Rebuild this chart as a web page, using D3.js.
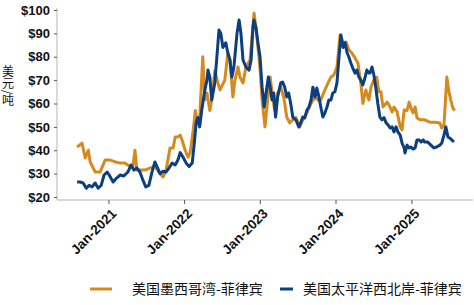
<!DOCTYPE html>
<html>
<head>
<meta charset="utf-8">
<script src="https://cdn.jsdelivr.net/npm/d3@7"></script>
<style>
  body { margin: 0; background: #fff; }
  svg { display: block; font-family: "Liberation Sans", Arial, sans-serif; }
</style>
</head>
<body>
<svg id="chart" width="474" height="305"></svg>
<script>
// 美国墨西哥湾-菲律宾
var gulfDates = ["2020-08-03","2020-08-27","2020-09-11","2020-09-26","2020-10-05","2020-10-29","2020-11-22","2020-12-16",
  "2021-01-10","2021-02-03","2021-02-27","2021-03-21","2021-04-15","2021-04-29","2021-05-09","2021-05-18","2021-06-02",
  "2021-06-26","2021-07-20","2021-08-13","2021-09-07","2021-09-22","2021-10-06","2021-10-25","2021-11-09","2021-11-19",
  "2021-12-02","2021-12-13","2021-12-22","2022-01-06","2022-01-20","2022-01-30","2022-02-14","2022-02-24","2022-03-03",
  "2022-03-17","2022-04-01","2022-04-11","2022-04-21","2022-05-05","2022-05-14","2022-05-29","2022-06-13","2022-06-23",
  "2022-07-16","2022-07-31","2022-08-10","2022-08-24","2022-09-03","2022-09-18","2022-09-27","2022-10-12","2022-10-26",
  "2022-11-15","2022-12-04","2022-12-13","2022-12-23","2023-01-02","2023-01-12","2023-01-26","2023-02-06","2023-02-20",
  "2023-03-04","2023-03-13","2023-03-28","2023-04-12","2023-04-26","2023-05-11","2023-05-25","2023-06-09","2023-06-24",
  "2023-07-13","2023-07-27","2023-08-16","2023-09-05","2023-09-24","2023-10-08","2023-10-22","2023-11-11","2023-11-26",
  "2023-12-10","2023-12-24","2024-01-08","2024-01-23","2024-02-07","2024-02-21","2024-03-05","2024-03-20","2024-04-04",
  "2024-04-18","2024-05-02","2024-05-12","2024-05-26","2024-06-10","2024-06-20","2024-07-04","2024-07-18","2024-07-28",
  "2024-08-07","2024-08-17","2024-09-06","2024-09-20","2024-09-30","2024-10-09","2024-10-24","2024-11-08","2024-11-17",
  "2024-11-27","2024-12-11","2024-12-21","2024-12-30","2025-01-09","2025-01-19","2025-01-28","2025-02-13","2025-03-06",
  "2025-03-30","2025-04-24","2025-05-18","2025-05-27","2025-06-07","2025-06-21","2025-07-01","2025-07-10","2025-07-20",
  "2025-07-29"];
var gulfValues = [41.4,43,36.7,40,35,30.7,30.7,35.8,
  35.8,35,34.5,34.5,33,33,40,31.5,31.5,
  31.5,32.4,33,30,28.6,31.5,41,41,45.7,
  45.7,46.5,44.4,40,37,39,48.7,57,53,
  54,80,61.5,64.5,57,61.5,74,68.8,65.8,
  70,81.6,78.6,62.8,70,75.6,71.3,68.8,75.6,
  78.6,98.7,92.7,84,75,61.5,50,60,71.3,
  62.8,57.2,64.5,67,62.8,54.2,51.7,53,54,
  50,53,56,60,62.8,61.5,61.5,65.8,68.8,
  71.3,72.2,75.6,89.3,86,86.3,83,81.6,79.5,
  77.3,68.8,60,65.8,61.5,67,70,71.3,65,
  65,58.5,60.6,58.5,56.4,58.5,56.4,50,48.7,
  57.2,57,60.6,58,56,58.5,53.8,53,53,
  52,52,51.7,49.5,50.8,71.3,65,61.5,58,
  57];

// 美国太平洋西北岸-菲律宾
var pnwDates = ["2020-08-03","2020-08-17","2020-09-01","2020-09-16","2020-09-30","2020-10-14","2020-10-29","2020-11-12",
  "2020-11-27","2020-12-11","2020-12-26","2021-01-10","2021-01-24","2021-02-08","2021-02-27","2021-03-16","2021-04-05",
  "2021-04-20","2021-05-04","2021-05-18","2021-06-02","2021-06-16","2021-06-30","2021-07-15","2021-07-29","2021-08-13",
  "2021-08-23","2021-09-07","2021-09-22","2021-10-06","2021-10-20","2021-11-04","2021-11-19","2021-12-02","2021-12-13",
  "2021-12-27","2022-01-11","2022-01-25","2022-02-09","2022-02-19","2022-02-28","2022-03-08","2022-03-17","2022-03-27",
  "2022-04-11","2022-04-21","2022-04-26","2022-05-05","2022-05-14","2022-05-29","2022-06-08","2022-06-18","2022-06-27",
  "2022-07-07","2022-07-21","2022-07-31","2022-08-10","2022-08-19","2022-08-29","2022-09-13","2022-09-23","2022-10-02",
  "2022-10-12","2022-10-26","2022-11-10","2022-11-20","2022-11-29","2022-12-04","2022-12-13","2022-12-23","2023-01-02",
  "2023-01-12","2023-01-22","2023-02-01","2023-02-11","2023-02-20","2023-03-01","2023-03-09","2023-03-18","2023-03-28",
  "2023-04-12","2023-04-21","2023-05-01","2023-05-11","2023-05-20","2023-05-30","2023-06-09","2023-06-24","2023-07-08",
  "2023-07-17","2023-07-27","2023-08-06","2023-08-16","2023-08-26","2023-09-05","2023-09-14","2023-09-24","2023-10-03",
  "2023-10-13","2023-10-22","2023-11-01","2023-11-11","2023-11-21","2023-11-30","2023-12-10","2023-12-19","2023-12-29",
  "2024-01-08","2024-01-18","2024-01-27","2024-02-07","2024-02-16","2024-02-26","2024-03-05","2024-03-15","2024-03-25",
  "2024-04-04","2024-04-13","2024-04-23","2024-05-02","2024-05-12","2024-05-22","2024-05-31","2024-06-10","2024-06-15",
  "2024-06-25","2024-07-04","2024-07-13","2024-07-23","2024-08-02","2024-08-12","2024-08-22","2024-09-01","2024-09-11",
  "2024-09-20","2024-09-30","2024-10-09","2024-10-19","2024-10-28","2024-11-08","2024-11-17","2024-11-27","2024-12-01",
  "2024-12-11","2024-12-21","2024-12-30","2025-01-09","2025-01-19","2025-01-28","2025-02-08","2025-02-17","2025-02-27",
  "2025-03-06","2025-03-21","2025-04-05","2025-04-19","2025-05-03","2025-05-18","2025-05-27","2025-06-07","2025-06-16",
  "2025-06-26","2025-07-05","2025-07-15","2025-07-25"];
var pnwValues = [26.4,26.4,26,23.8,25,24.3,26,23.8,
  25,29.4,30.7,28.6,26.4,28,29.4,29,30.7,
  33.7,31.5,32.4,30.7,27.3,24.3,25,30.3,35,
  33,30,31,30.7,32.4,34.5,33.7,35.8,39,
  37,34.5,33,34.5,43,51.7,54,50,57.2,
  65.8,70,74.3,71.3,61.5,68.8,80,91.4,90,
  84,86,81.6,78.6,71.3,75.6,90,95.7,90,
  78.6,75.6,74.3,78.6,92.7,95.7,92.7,86,80,
  67,58.5,65,71.3,67,61.5,64.5,54.2,62.8,
  68.8,69.2,67,62.8,64.5,60,54.2,53,50,
  51.7,54.2,53.8,57.2,58.5,61.5,67,62.8,66.6,
  62.8,58.5,54.2,56,58.5,61.5,61.5,64.5,65,
  68.8,80,89.3,84,86,81.6,80,77.3,75,
  73,74.3,71.3,70,68,71,74.3,73,73,
  75.6,72.2,67,60,54.2,53,54,51.7,50.8,
  49.5,50,47.8,50,47.8,46.5,43,41,38.8,
  42.2,41,41.4,40.5,41,44.4,44.4,43.5,44.4,
  43.5,43.5,42.2,41,41.4,42.2,43,46.5,50,
  45.7,45.2,44.4,43.5];

var yTicks = [20, 30, 40, 50, 60, 70, 80, 90, 100];
var xTickDates = ["2021-01-01","2022-01-01","2023-01-01","2024-01-01","2025-01-01"];
var seriesNames = ["美国墨西哥湾-菲律宾", "美国太平洋西北岸-菲律宾"];
var seriesColors = ["#D68A1E", "#0B3F80"];
var yTitle = "美元/吨";

var parse = d3.timeParse("%Y-%m-%d");
var series = [
  gulfDates.map(function(d, i) { return {date: parse(d), value: gulfValues[i]}; }),
  pnwDates.map(function(d, i) { return {date: parse(d), value: pnwValues[i]}; })
];

var svg = d3.select("#chart");
var mLeft = 57, mRight = 473, mTop = 10, mBottom = 197;

var x = d3.scaleTime()
  .domain([parse("2020-04-28"), parse("2025-10-25")])
  .range([mLeft, mRight]);
var y = d3.scaleLinear().domain([20, 100]).range([mBottom, mTop]);

// y axis
var yAxis = svg.append("g")
  .attr("transform", "translate(" + mLeft + ",0)")
  .call(d3.axisLeft(y).tickValues(yTicks).tickSize(3).tickPadding(4)
    .tickFormat(function(d) { return "$" + d; }));
yAxis.select(".domain").attr("stroke", "#b5b5b5").attr("d", "M0," + (mTop - 2) + "V" + (mBottom + 3));
yAxis.selectAll(".tick line").attr("stroke", "#555");
yAxis.selectAll("text").attr("font-size", "13px").attr("font-weight", "bold").attr("fill", "#111");

// x axis
var xAxis = svg.append("g")
  .attr("transform", "translate(0," + (mBottom + 3) + ")")
  .call(d3.axisBottom(x).tickValues(xTickDates.map(parse)).tickSize(4)
    .tickFormat(d3.timeFormat("Jan-%Y")));
xAxis.select(".domain").attr("stroke", "#b5b5b5").attr("d", "M" + mLeft + ",0H" + mRight);
xAxis.selectAll(".tick line").attr("stroke", "#555");
xAxis.selectAll("text")
  .attr("font-size", "13.5px").attr("font-weight", "bold").attr("fill", "#111")
  .attr("text-anchor", "end")
  .attr("transform", "translate(5,11) rotate(-45)")
  .attr("dy", "0.35em").attr("y", 0).attr("x", 0);

// y title in vertical writing mode
svg.append("text")
  .attr("x", 8).attr("y", 86)
  .attr("font-family", "'Noto Sans CJK SC', sans-serif")
  .attr("font-size", "12px").attr("fill", "#111")
  .attr("text-anchor", "middle")
  .style("writing-mode", "vertical-rl")
  .text(yTitle);

// lines
var line = d3.line()
  .x(function(d) { return x(d.date); })
  .y(function(d) { return y(d.value); });

svg.selectAll("path.series")
  .data(series)
  .enter()
  .append("path")
  .attr("class", "series")
  .attr("fill", "none")
  .attr("stroke", function(d, i) { return seriesColors[i]; })
  .attr("stroke-width", 3)
  .attr("stroke-linejoin", "round")
  .attr("d", line);

// legend
var legendX = [90, 280];
var lg = svg.selectAll("g.legend")
  .data(seriesNames)
  .enter()
  .append("g")
  .attr("class", "legend")
  .attr("transform", function(d, i) { return "translate(" + legendX[i] + ",289)"; });
lg.append("line")
  .attr("x2", function(d, i) { return i === 0 ? 22 : 13; })
  .attr("stroke", function(d, i) { return seriesColors[i]; })
  .attr("stroke-width", 3);
lg.append("text")
  .attr("x", function(d, i) { return i === 0 ? 42 : 23; })
  .attr("dy", "0.35em")
  .attr("font-family", "'Noto Sans CJK SC', sans-serif")
  .attr("font-size", "14px").attr("fill", "#111")
  .text(function(d) { return d; });
</script>
</body>
</html>
